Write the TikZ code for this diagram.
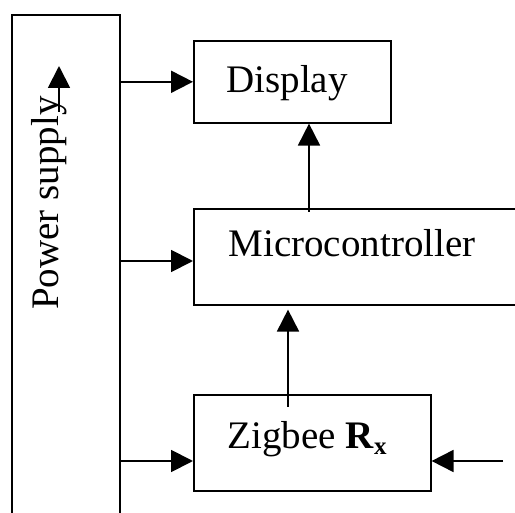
\documentclass[tikz,border=0pt]{standalone}
\usepackage{fontspec}
\setmainfont{Liberation Serif}
\usetikzlibrary{arrows.meta}
\begin{document}
\begin{tikzpicture}[x=1pt,y=1pt,
  box/.style={draw, line width=1.6pt, inner sep=0pt, anchor=north west},
  lbl/.style={font=\fontsize{39}{40}\selectfont, inner sep=0pt, anchor=base},
  arr/.style={line width=1.9pt, -{Triangle[length=22pt,width=22pt]}}]
\useasboundingbox (0,0) rectangle (515,-513);
\clip (0,0) rectangle (515,-513);
% blocks
\node[box, minimum width=108pt, minimum height=530pt] (ps) at (11,-14) {};
\node[box, minimum width=197pt, minimum height=82pt] (disp) at (193,-40) {};
\node[box, minimum width=340pt, minimum height=96pt] (mc) at (193,-208) {};
\node[box, minimum width=237pt, minimum height=96pt] (zb) at (193,-394) {};
% labels
\node[lbl, rotate=90] (pst) at (59,-203) {Power supply};
\node[lbl] (dispt) at (287,-93) {Display};
\node[lbl] (mct) at (352,-257) {Microcontroller};
\node[lbl] (zbt) at (307,-449) {Zigbee \textbf{R}\raisebox{-6pt}{\fontsize{25}{25}\selectfont\bfseries x}};
% connector end points
\coordinate (p2) at (119,-261);
\coordinate (p3) at (119,-461);
\coordinate (m1) at (309,-212);
\coordinate (z1) at (288,-407);
\coordinate (in) at (503,-461);
\coordinate (pa) at (59,-112);
\coordinate (pb) at (59,-66);
% connectors
\draw[arr] (ps.east |- disp.west) -- (disp.west);
\draw[arr] (p2) -- (p2 -| mc.west);
\draw[arr] (p3) -- (p3 -| zb.west);
\draw[arr] (m1) -- (m1 |- disp.south);
\draw[arr] (z1) -- ([yshift=-4pt]z1 |- mc.south);
\draw[arr] (in) -- (in -| zb.east);
\draw[arr] (pa) -- (pb);
\end{tikzpicture}
\end{document}
